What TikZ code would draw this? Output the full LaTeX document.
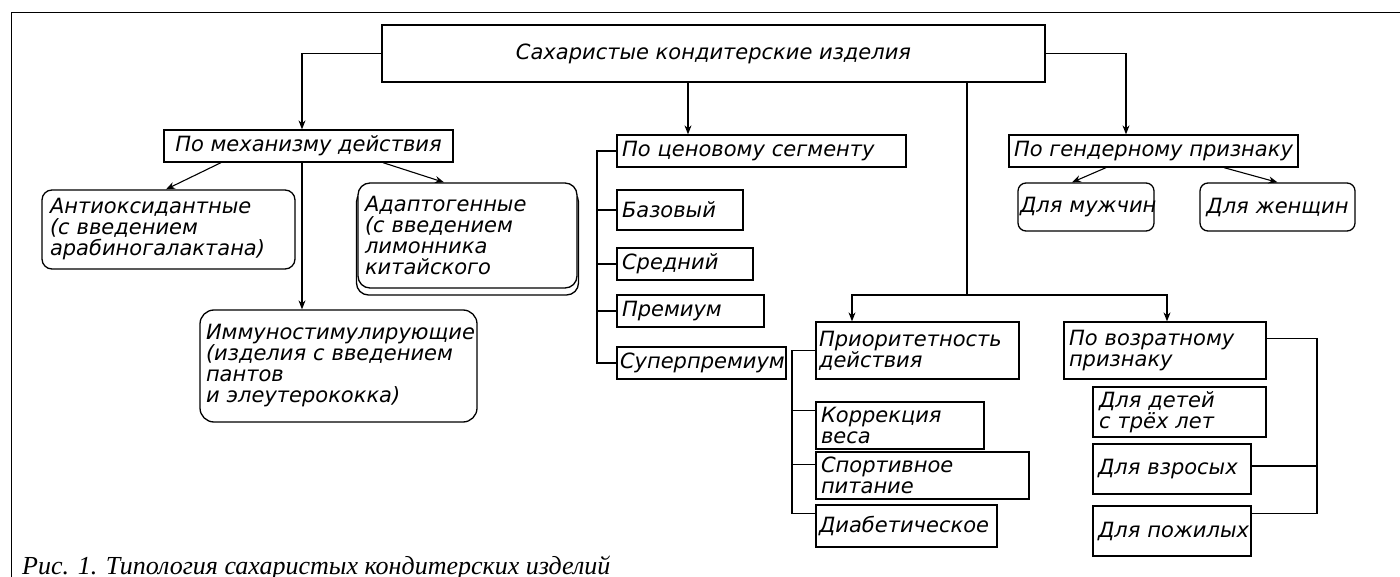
\documentclass[tikz,border=0pt]{standalone}
\usepackage{fontspec}
\setmainfont{Liberation Serif}
\newfontfamily\gostfont{DejaVu Sans}
\usetikzlibrary{arrows.meta}
\begin{document}
\begin{tikzpicture}[x=1pt,y=-1pt,
  boxfont/.style={font=\gostfont\itshape\fontsize{21}{21}\selectfont},
  sq/.style={draw, line width=1.3pt, fill=white, inner xsep=5pt, inner ysep=0pt, align=left, boxfont},
  rsq/.style={sq, rounded corners=10pt},
  ln/.style={line width=1.1pt},
  arr/.style={ln, -{Stealth[length=9pt,width=7pt]}},
  captext/.style={font=\itshape\fontsize{26}{26}\selectfont, inner sep=0pt, anchor=base west}
]
\useasboundingbox (0,0) rectangle (1400,577);
\clip (0,0) rectangle (1400,577);
% frame
\draw[line width=1.2pt] (11.5,600) -- (11.5,12.3) -- (1420,12.3);

% nodes
\node[sq, align=center, minimum width=663pt, minimum height=57pt, line width=1.5pt] (top) at (713.5,53.5) {Сахаристые кондитерские изделия};
\node[sq, align=center, minimum width=289pt, minimum height=32pt] (mech) at (308.5,146) {По механизму действия};
\node[rsq, text width=237pt, inner xsep=8pt, minimum height=79pt] (antiox) at (168.5,229.5) {Антиоксидантные\\(с введением\\арабиногалактана)};
\draw[line width=1.3pt, rounded corners=12pt, fill=white] (356.5,190) rectangle (578.5,295);
\node[rsq, rounded corners=12pt, text width=205pt, inner xsep=7pt, minimum height=105pt] (adapt) at (467.5,235.5) {Адаптогенные\\(с введением\\лимонника\\китайского};
\node[rsq, rounded corners=14pt, text width=265pt, inner xsep=6pt, minimum height=112pt] (immuno) at (338.5,366) {Иммуностимулирующие\\(изделия с введением\\пантов\\и элеутерококка)};

\node[sq, text width=279pt, minimum height=32pt] (price) at (761.5,151) {По ценовому сегменту};
\node[sq, text width=116pt, minimum height=40pt] (base) at (680,210) {Базовый};
\node[sq, text width=126pt, minimum height=32pt] (mid) at (685,264) {Средний};
\node[sq, text width=137pt, minimum height=32pt] (prem) at (690.5,311) {Премиум};
\node[sq, text width=163pt, inner xsep=3pt, minimum height=32pt] (sprem) at (701.5,363) {\mbox{Суперпремиум}};

\node[sq, align=center, minimum width=289pt, minimum height=32pt] (gender) at (1153.5,151) {По гендерному признаку};
\node[rsq, rounded corners=8pt, align=center, text width=132pt, inner xsep=2pt, minimum height=48pt] (male) at (1086,207) {\mbox{Для мужчин}};
\node[rsq, rounded corners=8pt, align=center, text width=149pt, inner xsep=3pt, minimum height=48pt] (female) at (1277.5,207) {\mbox{Для женщин}};

\node[sq, text width=197pt, inner xsep=3pt, minimum height=57pt] (prior) at (917.5,350.5) {\mbox{Приоритетность}\\действия};
\node[sq, text width=158pt, minimum height=47pt] (weight) at (900,425.5) {Коррекция\\веса};
\node[sq, text width=203pt, minimum height=47pt] (sport) at (922.5,475.5) {Спортивное\\питание};
\node[sq, text width=175pt, inner xsep=3pt, minimum height=42pt] (diab) at (906.5,526) {\mbox{Диабетическое}};

\node[sq, text width=192pt, minimum height=57pt] (age) at (1165,350.5) {По возратному\\признаку};
\node[sq, text width=161pt, inner xsep=6pt, minimum height=50pt] (kids) at (1179.5,412) {Для детей\\с трёх лет};
\node[sq, text width=148pt, inner xsep=5pt, minimum height=50pt] (adult) at (1172,469) {\mbox{Для взросых}};
\node[sq, text width=148pt, inner xsep=5pt, minimum height=50pt] (elder) at (1172,531) {\mbox{Для пожилых}};

\node[captext] (caption) at (22,574) {Рис. 1. Типология сахаристых кондитерских изделий};

% helper coordinates
\coordinate (cmx) at (302,0);
\coordinate (cpx) at (688,0);
\coordinate (cgx) at (1126,0);
\coordinate (cj) at (967,295);
\coordinate (pbx) at (597,0);
\coordinate (qbx) at (792,0);
\coordinate (abx) at (1317,0);

% connectors from top
\draw[arr] (top.west) -| (mech.north -| cmx);
\draw[arr] (top.south -| cpx) -- (price.north -| cpx);
\draw[arr] (top.east) -| (gender.north -| cgx);
\draw[ln] (top.south -| cj) -- (cj);
\draw[arr] (cj) -| ([xshift=-65.5pt]prior.north);
\draw[arr] (cj) -| ([xshift=2pt]age.north);

% mechanism
\draw[arr] ([xshift=-87.5pt]mech.south) -- ([xshift=-2.5pt]antiox.north);
\draw[arr] ([xshift=74.5pt]mech.south) -- ([xshift=-23.5pt]adapt.north);
\draw[arr] (mech.south -| cmx) -- (immuno.north -| cmx);

% gender
\draw[arr] ([xshift=-47.5pt]gender.south) -- ([xshift=-14pt]male.north);
\draw[arr] ([xshift=70.5pt]gender.south) -- (female.north);

% price bracket
\draw[ln] (price.west) -| (sprem.west -| pbx) -- (sprem.west);
\draw[ln] (base.west -| pbx) -- (base.west);
\draw[ln] (mid.west -| pbx) -- (mid.west);
\draw[ln] (prem.west -| pbx) -- (prem.west);

% priority bracket
\coordinate (wW) at ([yshift=-9pt]weight.north west);
\coordinate (sW) at ([yshift=-13pt]sport.north west);
\coordinate (dW) at ([yshift=-9pt]diab.north west);
\draw[ln] (prior.west) -| (dW -| qbx) -- (dW);
\draw[ln] (wW -| qbx) -- (wW);
\draw[ln] (sW -| qbx) -- (sW);

% age bracket
\coordinate (aE) at ([yshift=-17pt]age.north east);
\coordinate (adE) at ([yshift=3pt]adult.east);
\coordinate (eE) at ([yshift=-8pt]elder.north east);
\draw[ln] (aE) -| (eE -| abx) -- (eE);
\draw[ln] (adE) -- (adE -| abx);
\end{tikzpicture}
\end{document}
